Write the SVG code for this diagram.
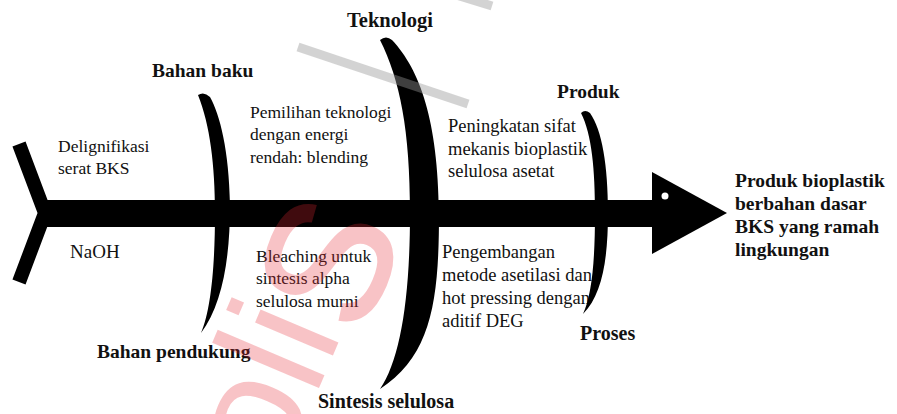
<svg xmlns="http://www.w3.org/2000/svg" width="897" height="414" viewBox="0 0 897 414">
  <style>
    .lbl { font-family: "Liberation Serif", "Times New Roman", serif; font-weight: bold; fill: #111; }
    .txt { font-family: "Liberation Serif", "Times New Roman", serif; fill: #111; }
    .bone { fill: #000; }
    .wm-line { stroke: rgb(150,150,150); stroke-opacity: 0.42; stroke-width: 9; fill: none; }
    .wm-text { font-family: "Liberation Sans", Arial, sans-serif; fill: rgb(230,40,50); fill-opacity: 0.28; }
  </style>

  <rect width="897" height="414" fill="#fff"/>

  <!-- spine: tail, shaft and head -->
  <g id="spine">
    <rect x="40" y="200" width="616" height="27" fill="#000"/>
    <polyline points="19,144 45,213 19,282" fill="none" stroke="#000" stroke-width="14" stroke-linejoin="miter"/>
    <polygon points="652,172 727,213 652,254" fill="#000"/>
    <circle cx="665" cy="196" r="3.5" fill="#fff"/>
  </g>

  <!-- cause texts -->
  <g id="text-bahan-baku">
    <text class="txt" font-size="17.5" x="58" y="152">Delignifikasi</text>
    <text class="txt" font-size="17.5" x="58" y="174">serat BKS</text>
  </g>
  <g id="text-bahan-pendukung">
    <text class="txt" font-size="19" x="70" y="258">NaOH</text>
  </g>
  <g id="text-teknologi">
    <text class="txt" font-size="17.5" x="250" y="118">Pemilihan teknologi</text>
    <text class="txt" font-size="17.5" x="250" y="140">dengan energi</text>
    <text class="txt" font-size="17.5" x="250" y="163">rendah: blending</text>
  </g>
  <g id="text-sintesis">
    <text class="txt" font-size="17.5" x="256" y="262">Bleaching untuk</text>
    <text class="txt" font-size="17.5" x="256" y="284">sintesis alpha</text>
    <text class="txt" font-size="17.5" x="256" y="307">selulosa murni</text>
  </g>
  <g id="text-produk">
    <text class="txt" font-size="18.5" x="448" y="132">Peningkatan sifat</text>
    <text class="txt" font-size="18.5" x="448" y="155">mekanis bioplastik</text>
    <text class="txt" font-size="18.5" x="448" y="177">selulosa asetat</text>
  </g>
  <g id="text-proses">
    <text class="txt" font-size="18.5" x="442" y="258">Pengembangan</text>
    <text class="txt" font-size="18.5" x="442" y="281">metode asetilasi dan</text>
    <text class="txt" font-size="18.5" x="442" y="304">hot pressing dengan</text>
    <text class="txt" font-size="18.5" x="442" y="327">aditif DEG</text>
  </g>

  <!-- ribs -->
  <g id="connectors">
    <path id="bone-bahan" class="bone" d="M198,95 Q204,91 210,97 C220,115 229,150 230,205 C230,260 222,305 201,333 C211,310 215,265 215,213 C215,165 210,125 198,95 Z"/>
    <path id="bone-teknologi" class="bone" d="M380,40 Q386,35 392,40 C420,70 438,120 439,213 C439,300 432,355 380,389 C400,360 410,300 410,213 C410,130 400,80 380,40 Z"/>
    <path id="bone-produk" class="bone" d="M581,113 Q585,109 590,113 C602,130 608,165 608,213 C608,260 602,295 583,314 C592,295 595,260 595,213 C595,170 592,135 581,113 Z"/>
  </g>

  <!-- category labels -->
  <g id="label-teknologi"><text class="lbl" font-size="20.5" x="347" y="27">Teknologi</text></g>
  <g id="label-bahan-baku"><text class="lbl" font-size="19.5" x="152" y="77">Bahan baku</text></g>
  <g id="label-produk"><text class="lbl" font-size="19.5" x="557" y="98">Produk</text></g>
  <g id="label-proses"><text class="lbl" font-size="20" x="580" y="340">Proses</text></g>
  <g id="label-bahan-pendukung"><text class="lbl" font-size="19.5" x="97" y="358">Bahan pendukung</text></g>
  <g id="label-sintesis"><text class="lbl" font-size="20" x="318" y="408">Sintesis selulosa</text></g>

  <!-- effect -->
  <g id="effect">
    <text class="lbl" font-size="19.5" x="735" y="187">Produk bioplastik</text>
    <text class="lbl" font-size="19.5" x="735" y="210">berbahan dasar</text>
    <text class="lbl" font-size="19.5" x="735" y="233">BKS yang ramah</text>
    <text class="lbl" font-size="19.5" x="735" y="256">lingkungan</text>
  </g>

  <!-- overlay marks -->
  <g id="overlay">
    <line class="wm-line" x1="298" y1="47" x2="468" y2="104"/>
    <line class="wm-line" x1="450" y1="-7" x2="492" y2="6"/>
    <text class="wm-text" font-size="160" transform="translate(280,480) rotate(-67)">oli<tspan font-size="230" dx="3" dy="20">s</tspan></text>
  </g>
</svg>
